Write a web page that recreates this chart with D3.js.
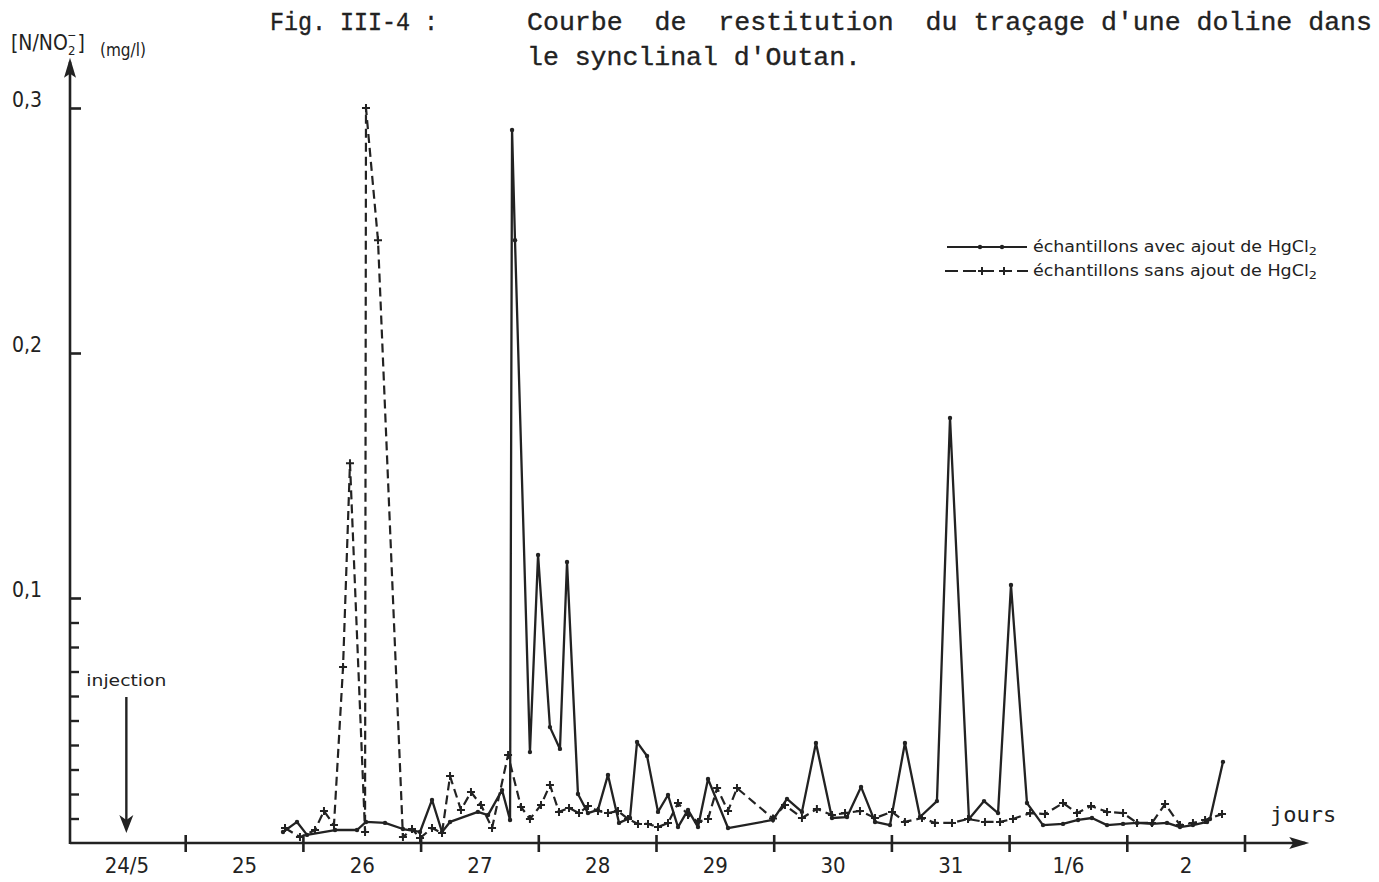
<!DOCTYPE html>
<html><head><meta charset="utf-8">
<script src="https://cdn.jsdelivr.net/npm/d3@7/dist/d3.min.js"></script>
<style>
html,body{margin:0;padding:0;background:#fff;}
svg{display:block;background:#fff;}
text{fill:#222;}
</style></head><body>
<svg id="chart" width="1379" height="882"></svg>
<script>
// ---- data (time in days counted from 24/5 00:00, concentration in mg/l) ----
const dayLabels = ["24/5","25","26","27","28","29","30","31","1/6","2"];
const dayBoundaries = [1,2,3,4,5,6,7,8,9,10];
const yTickValues = [0.1,0.2,0.3];
const yTickLabels = ["0,1","0,2","0,3"];
const yMinorTicks = [0.01,0.02,0.03,0.04,0.05,0.06,0.07,0.08,0.09];
const injectionDay = 0.5;

// échantillons avec ajout de HgCl2 (solid line)
const avecT = [1.831,1.950,2.035,2.273,2.460,2.536,2.698,2.850,2.995,3.097,3.182,3.250,3.487,3.573,3.692,3.760,3.777,3.802,3.929,3.998,4.099,4.184,4.244,4.337,4.422,4.507,4.592,4.686,4.779,4.839,4.924,5.017,5.102,5.187,5.272,5.357,5.442,5.612,5.994,6.113,6.240,6.359,6.495,6.623,6.742,6.861,6.988,7.115,7.243,7.387,7.498,7.659,7.787,7.906,8.016,8.152,8.288,8.458,8.586,8.704,8.832,8.968,9.087,9.214,9.342,9.452,9.562,9.682,9.707,9.817];
const avecV = [0.0045,0.0086,0.0033,0.0053,0.0053,0.0086,0.0082,0.0057,0.0045,0.0176,0.0045,0.0086,0.0127,0.0114,0.0216,0.0094,0.291,0.246,0.0371,0.1176,0.0473,0.0384,0.1147,0.020,0.0122,0.0135,0.0278,0.0082,0.0102,0.0412,0.0355,0.0127,0.0196,0.0065,0.0135,0.0065,0.0261,0.0061,0.0094,0.018,0.0127,0.0408,0.0102,0.0106,0.0229,0.0086,0.0073,0.0408,0.0106,0.0171,0.1735,0.0098,0.0171,0.0122,0.1053,0.0163,0.0073,0.0078,0.0094,0.0102,0.0073,0.0078,0.0082,0.0078,0.0082,0.0065,0.0073,0.0086,0.0098,0.0331];

// échantillons sans ajout de HgCl2 (dashed line)
const sansT = [1.848,1.975,2.103,2.179,2.264,2.341,2.400,2.528,2.536,2.638,2.850,2.927,2.995,3.097,3.182,3.250,3.343,3.428,3.513,3.607,3.743,3.853,3.929,4.023,4.099,4.176,4.261,4.346,4.422,4.507,4.592,4.677,4.762,4.847,4.932,5.017,5.102,5.187,5.272,5.357,5.442,5.519,5.612,5.688,5.994,6.096,6.240,6.367,6.495,6.606,6.733,6.861,7.005,7.115,7.260,7.370,7.515,7.651,7.795,7.923,8.033,8.178,8.305,8.458,8.577,8.696,8.832,8.968,9.087,9.214,9.325,9.452,9.562,9.665,9.809];
const sansV = [0.0061,0.0024,0.0053,0.0131,0.0073,0.0718,0.155,0.0045,0.300,0.246,0.0024,0.0057,0.002,0.0061,0.0041,0.0273,0.0135,0.0208,0.0155,0.0061,0.0359,0.0147,0.0098,0.0155,0.0237,0.0127,0.0143,0.0122,0.0151,0.0131,0.0122,0.0131,0.0098,0.0078,0.0078,0.0065,0.0082,0.0163,0.0114,0.0086,0.0098,0.0224,0.0131,0.0224,0.010,0.0155,0.0102,0.0139,0.0114,0.0122,0.0131,0.0102,0.0127,0.0086,0.0102,0.0082,0.0082,0.0098,0.0086,0.0086,0.0098,0.0122,0.0118,0.0163,0.0122,0.0151,0.0127,0.0122,0.0082,0.0082,0.0159,0.0073,0.0082,0.0094,0.0118];

// ---- drawing ----
const INK = "#222";
const svg = d3.select("#chart");
const x = d3.scaleLinear().domain([0,10]).range([67.5,1244.5]);
const y = d3.scaleLinear().domain([0,0.3]).range([843,108]);
const axX = x(0) + 2.5;
const labelFont = "'DejaVu Sans Condensed','DejaVu Sans',sans-serif";

// axis lines with arrows
const xEnd = x(10.55), yTop = y(0.3205);
svg.append("line").attr("x1",axX).attr("x2",xEnd-4).attr("y1",y(0)).attr("y2",y(0))
  .attr("stroke",INK).attr("stroke-width",2.6);
svg.append("path").attr("d",`M${xEnd},${y(0)} L${xEnd-20},${y(0)-6} L${xEnd-16},${y(0)} L${xEnd-20},${y(0)+6} Z`).attr("fill",INK);
svg.append("line").attr("x1",axX).attr("x2",axX).attr("y1",y(0)+1).attr("y2",yTop+4)
  .attr("stroke",INK).attr("stroke-width",2.6);
svg.append("path").attr("d",`M${axX},${yTop} L${axX-6},${yTop+20} L${axX},${yTop+16} L${axX+6},${yTop+20} Z`).attr("fill",INK);

// x ticks (day boundaries), crossing the axis
const gxt = svg.append("g").attr("transform",`translate(0,${y(0)})`)
  .call(d3.axisBottom(x).tickValues(dayBoundaries).tickSize(9).tickFormat(""));
gxt.select(".domain").remove();
gxt.selectAll(".tick line").attr("y1",-8).attr("stroke",INK).attr("stroke-width",2.6);

// x labels (centered in each day)
const gxl = svg.append("g").attr("transform",`translate(0,${y(0)})`)
  .call(d3.axisBottom(x).tickValues(dayLabels.map((d,i)=>i+0.5)).tickSize(0).tickPadding(14)
        .tickFormat((d,i)=>dayLabels[i]));
gxl.select(".domain").remove();
gxl.selectAll(".tick text").attr("font-family",labelFont).attr("font-size",22).attr("fill",INK);

// y major ticks + labels
const gym = svg.append("g").attr("transform",`translate(${axX},0)`)
  .call(d3.axisRight(y).tickValues(yTickValues).tickSize(11).tickFormat(""));
gym.select(".domain").remove();
gym.selectAll(".tick line").attr("stroke",INK).attr("stroke-width",2.6);
const gyl = svg.append("g").attr("transform",`translate(${axX},0)`)
  .call(d3.axisLeft(y).tickValues(yTickValues).tickSize(0).tickPadding(28)
        .tickFormat((d,i)=>yTickLabels[i]));
gyl.select(".domain").remove();
gyl.selectAll(".tick text").attr("font-family",labelFont).attr("font-size",21).attr("fill",INK).attr("dy","-0.05em");
// y minor ticks
const gyn = svg.append("g").attr("transform",`translate(${axX},0)`)
  .call(d3.axisRight(y).tickValues(yMinorTicks).tickSize(9).tickFormat(""));
gyn.select(".domain").remove();
gyn.selectAll(".tick line").attr("stroke",INK).attr("stroke-width",2.4);

// y axis title
const yt = svg.append("text").attr("x",11).attr("y",50).attr("font-family",labelFont).attr("font-size",21);
yt.append("tspan").text("[N/NO");
yt.append("tspan").attr("font-size",13).attr("dy",5).text("2");
yt.append("tspan").attr("font-size",12).attr("dx",-8).attr("dy",-16).text("−");
yt.append("tspan").attr("font-size",21).attr("dx",1).attr("dy",11).text("]");
svg.append("text").attr("x",100).attr("y",56).attr("font-family",labelFont).attr("font-size",17).text("(mg/l)");

// x axis title
svg.append("text").attr("x",1270).attr("y",822).attr("font-family","'DejaVu Sans Mono',monospace")
  .attr("font-size",22).text("jours");

// figure title
const mono = "'Liberation Mono','DejaVu Sans Mono',monospace";
const titleStyle = sel => sel.attr("font-family",mono).attr("font-size",26)
  .attr("stroke",INK).attr("stroke-width",0.35).attr("lengthAdjust","spacingAndGlyphs");
svg.append("text").attr("x",270).attr("y",30).call(titleStyle)
  .attr("textLength",168).text("Fig. III-4 :");
svg.append("text").attr("x",527).attr("y",30).call(titleStyle)
  .style("white-space","pre").attr("textLength",845)
  .text("Courbe  de  restitution  du traçage d'une doline dans");
svg.append("text").attr("x",527).attr("y",65).call(titleStyle)
  .attr("textLength",334).text("le synclinal d'Outan.");

// injection arrow
const ix = x(injectionDay);
svg.append("text").attr("x",ix).attr("y",686).attr("text-anchor","middle").attr("font-family",labelFont)
  .attr("font-size",15).attr("textLength",80).attr("lengthAdjust","spacingAndGlyphs").text("injection");
svg.append("line").attr("x1",ix).attr("x2",ix).attr("y1",697).attr("y2",826).attr("stroke",INK).attr("stroke-width",2.4);
svg.append("path").attr("d",`M${ix},${833} L${ix-7},${815} L${ix},${820} L${ix+7},${815} Z`).attr("fill",INK);

// series
const avec = avecT.map((t,i)=>({t,v:avecV[i]}));
const sans = sansT.map((t,i)=>({t,v:sansV[i]}));
const line = d3.line().x(d=>x(d.t)).y(d=>y(d.v));

svg.append("path").datum(sans).attr("d",line).attr("fill","none").attr("stroke",INK)
  .attr("stroke-width",2.2).attr("stroke-dasharray","9,5").attr("stroke-linejoin","round");
svg.append("path").datum(avec).attr("d",line).attr("fill","none").attr("stroke",INK)
  .attr("stroke-width",2.3).attr("stroke-linejoin","round");

svg.append("g").selectAll("path").data(sans).join("path")
  .attr("transform",d=>`translate(${x(d.t)},${y(d.v)})`)
  .attr("d","M-4,0H4M0,-4V4").attr("stroke",INK).attr("stroke-width",2);
svg.append("g").selectAll("circle").data(avec).join("circle")
  .attr("cx",d=>x(d.t)).attr("cy",d=>y(d.v)).attr("r",2.2).attr("fill",INK);

// legend
const lg = svg.append("g");
const l1y = 247, l2y = 271;
lg.append("line").attr("x1",947).attr("x2",1027).attr("y1",l1y).attr("y2",l1y).attr("stroke",INK).attr("stroke-width",2.2);
[980,1002].forEach(cx=>lg.append("circle").attr("cx",cx).attr("cy",l1y).attr("r",2.2).attr("fill",INK));
lg.append("line").attr("x1",945).attr("x2",1028).attr("y1",l2y).attr("y2",l2y).attr("stroke",INK)
  .attr("stroke-width",2.2).attr("stroke-dasharray","13,5");
[982,1004].forEach(cx=>lg.append("path").attr("transform",`translate(${cx},${l2y})`).attr("d","M-4,0H4M0,-4V4").attr("stroke",INK).attr("stroke-width",2));
function legText(yy, label){
  const t = lg.append("text").attr("x",1033).attr("y",yy+5).attr("font-family",labelFont).attr("font-size",15)
    .attr("textLength",284).attr("lengthAdjust","spacingAndGlyphs");
  t.append("tspan").text(label + "HgCl");
  t.append("tspan").attr("font-size",11).attr("dy",3).text("2");
}
legText(l1y,"échantillons avec ajout de ");
legText(l2y,"échantillons sans ajout de ");
</script>
</body></html>
